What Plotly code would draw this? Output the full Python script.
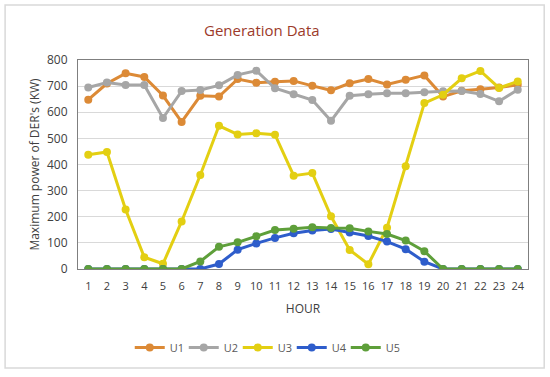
import plotly.graph_objects as go

hours = list(range(1, 25))
hour_labels = [str(h) for h in hours]
u1 = [648, 710, 749, 735, 664, 563, 663, 660, 727, 713, 717, 720, 701, 684, 711, 727, 706, 724, 741, 660, 682, 688, 695, 705]
u2 = [695, 714, 704, 704, 578, 681, 685, 703, 743, 759, 692, 669, 647, 567, 663, 669, 673, 673, 677, 680, 681, 670, 642, 686]
u3 = [437, 448, 228, 45, 20, 182, 360, 548, 515, 520, 514, 357, 367, 202, 73, 18, 158, 393, 635, 667, 730, 758, 693, 718]
u4 = [0, 0, 0, 0, 0, 0, 0, 19, 74, 98, 119, 137, 147, 153, 140, 126, 105, 76, 28, 0, 0, 0, 0, 0]
u5 = [0, 0, 0, 0, 0, 0, 29, 85, 102, 125, 149, 154, 160, 157, 156, 144, 134, 109, 68, 0, 0, 0, 0, 0]

series = [
    ("U1", u1, "#DC8A36"),
    ("U2", u2, "#A6A6A6"),
    ("U3", u3, "#E3CF12"),
    ("U4", u4, "#2E5DCB"),
    ("U5", u5, "#5E9F3A"),
]

fig = go.Figure()
for name, vals, col in series:
    fig.add_trace(go.Scatter(
        x=hours, y=vals, name=name, mode="lines+markers",
        line=dict(color=col, width=3),
        marker=dict(color=col, size=8),
    ))

font_family = "Open Sans, Liberation Sans, sans-serif"
fig.update_layout(
    width=550, height=377,
    margin=dict(l=78, r=22, t=60, b=108),
    paper_bgcolor="white", plot_bgcolor="white",
    font=dict(family=font_family, size=11, color="#404040"),
    title=dict(text="Generation Data", x=0.476, xanchor="center", y=0.918, yanchor="middle",
               font=dict(size=15, color="#9C3A2A", family=font_family)),
    showlegend=True,
    legend=dict(orientation="h", x=0.415, xanchor="center", y=-0.375, yanchor="middle",
                font=dict(size=11, color="#595959"), itemwidth=30, tracegroupgap=0,
                entrywidth=9, entrywidthmode="pixels"),
    xaxis=dict(
        tickmode="array", tickvals=hours, ticktext=hour_labels,
        range=[0.45, 24.55], showgrid=False, zeroline=False,
        showline=True, linecolor="#7F7F7F", mirror=True, linewidth=1,
        ticks="", tickfont=dict(size=11, color="#404040"), ticklabelstandoff=7,
        title=dict(text="HOUR", standoff=12, font=dict(size=12, color="#404040")),
    ),
    yaxis=dict(
        range=[0, 800], dtick=100, showgrid=True, gridcolor="#D9D9D9", gridwidth=1,
        zeroline=False, showline=True, linecolor="#7F7F7F", mirror=True, linewidth=1,
        ticks="", tickfont=dict(size=12, color="#404040"), ticklabelstandoff=7,
        title=dict(text="Maximum power of DER's (KW)", standoff=4, font=dict(size=12, color="#404040")),
    ),
    shapes=[dict(type="rect", xref="paper", yref="paper", x0=-0.162, x1=1.036, y0=-0.474, y1=1.263,
                 line=dict(color="#D9D9D9", width=1.5), fillcolor="rgba(0,0,0,0)", layer="below")],
)

fig.write_html("out.html", config={"displayModeBar": False},
               post_script="document.body.style.margin='0';document.body.style.overflow='hidden';")
